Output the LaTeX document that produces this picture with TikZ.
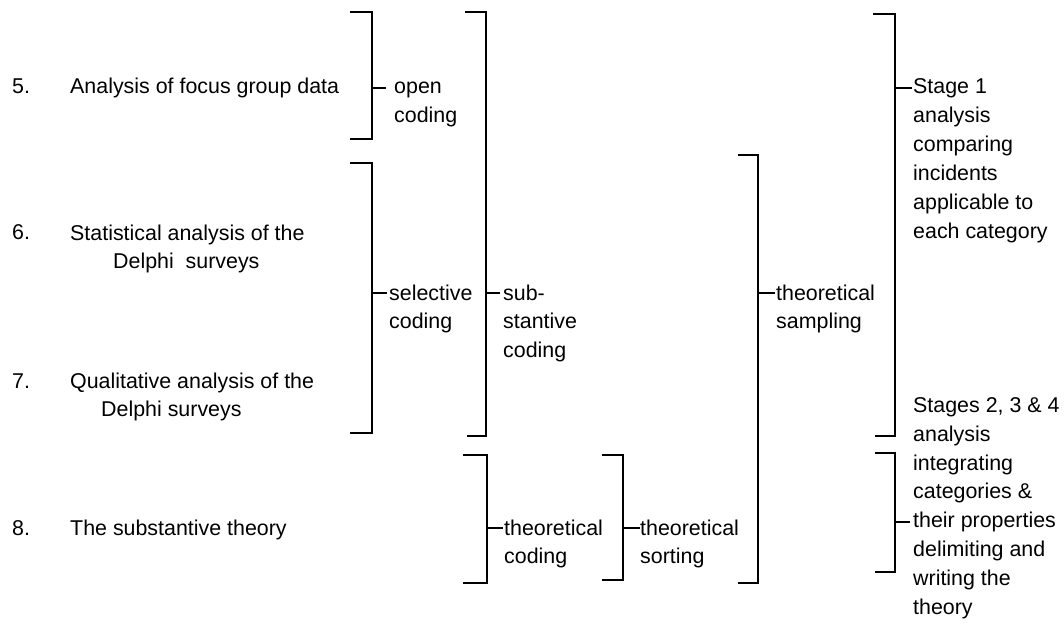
\documentclass[tikz,border=0pt]{standalone}
\usepackage{fontspec}
\setmainfont{Liberation Sans}
\begin{document}
\begin{tikzpicture}[x=1pt,y=-1pt,
  txt/.style={inner sep=0pt,anchor=base west,align=left,font=\fontsize{21.4}{28.8}\selectfont},
  brk/.style={line width=2pt,line join=miter},
  tick/.style={line width=1.6pt}]
\useasboundingbox (0,0) rectangle (1064,628);
% left column (multi-line nodes are placed by the baseline of their last line)
\node[txt] (n5) at (12,94) {5.};
\node[txt] (t5) at (70,94) {Analysis of focus group data};
\node[txt] (n6) at (12,240) {6.};
\node[txt] (t6) at (70,268.8) {Statistical analysis of the\\\hspace*{43pt}Delphi\ \ surveys};
\node[txt] (n7) at (12,388) {7.};
\node[txt] (t7) at (70,416.8) {Qualitative analysis of the\\\hspace*{31pt}Delphi surveys};
\node[txt] (n8) at (12,535) {8.};
\node[txt] (t8) at (70,535) {The substantive theory};
% labels
\node[txt] (open) at (394,122.8) {open\\coding};
\node[txt] (sel) at (389,328.8) {selective\\coding};
\node[txt] (sub) at (503,357.6) {sub-\\stantive\\coding};
\node[txt] (tcod) at (504,563.8) {theoretical\\coding};
\node[txt] (tsort) at (640,563.8) {theoretical\\sorting};
\node[txt] (tsamp) at (776,328.8) {theoretical\\sampling};
\node[txt] (st1) at (913,238) {Stage 1\\analysis\\comparing\\incidents\\applicable to\\each category};
\node[txt] (st2) at (913,614) {Stages 2, 3 \& 4\\analysis\\integrating\\categories \&\\their properties\\delimiting and\\writing the\\theory};
% brackets
\draw[brk] (350,12) -- (372,12) -- (372,139) -- (350,139);
\draw[tick] (372,88) -- (386,88);
\draw[brk] (350,163) -- (372,163) -- (372,433) -- (350,433);
\draw[tick] (372,293) -- (387,293);
\draw[brk] (465,12) -- (486,12) -- (486,436) -- (467,436);
\draw[tick] (486,293) -- (500,293);
\draw[brk] (463,455) -- (487,455) -- (487,583) -- (463,583);
\draw[tick] (487,528) -- (503,528);
\draw[brk] (602,455) -- (623,455) -- (623,580) -- (602,580);
\draw[tick] (623,528) -- (640,528);
\draw[brk] (738,155) -- (758,155) -- (758,583) -- (738,583);
\draw[tick] (758,293) -- (775,293);
\draw[brk] (873,14) -- (895,14) -- (895,436) -- (875,436);
\draw[tick] (895,88) -- (912,88);
\draw[brk] (875,453) -- (895,453) -- (895,572) -- (875,572);
\draw[tick] (895,522) -- (910,522);
\end{tikzpicture}
\end{document}
